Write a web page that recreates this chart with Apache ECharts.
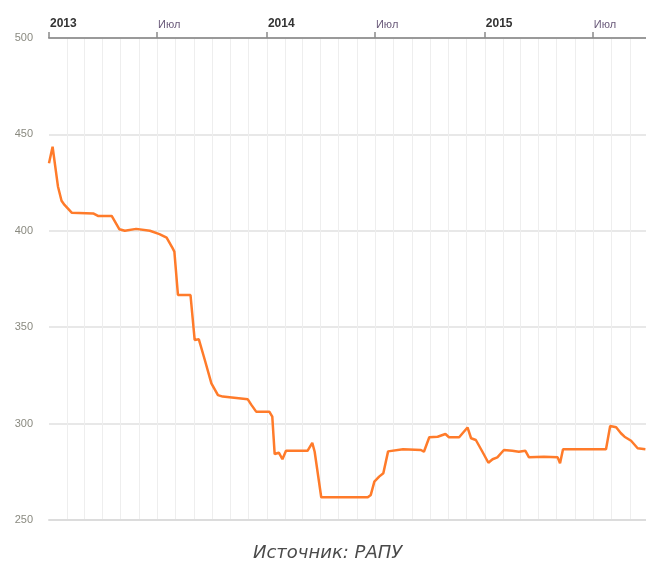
<!DOCTYPE html>
<html>
<head>
<meta charset="utf-8">
<style>
  html, body { margin: 0; padding: 0; background: #fff; }
  #chart { width: 646px; height: 568px; }
</style>
<script src="https://cdn.jsdelivr.net/npm/echarts@6/dist/echarts.min.js"></script>
</head>
<body>
<div id="chart"></div>
<script>
// Price series (dates and values)
const dates = [
  '2013-01-01','2013-01-07','2013-01-16','2013-01-22','2013-01-27','2013-02-08','2013-03-16','2013-03-24',
  '2013-04-16','2013-04-29','2013-05-08','2013-05-27','2013-06-19','2013-07-05','2013-07-17','2013-07-27',
  '2013-07-30','2013-08-05','2013-08-26','2013-09-02','2013-09-09','2013-09-19','2013-09-30','2013-10-11',
  '2013-10-19','2013-11-30','2013-12-06','2013-12-14','2014-01-05','2014-01-10','2014-01-14','2014-01-21',
  '2014-01-27','2014-02-02','2014-03-10','2014-03-18','2014-03-22','2014-04-02','2014-06-19','2014-06-24',
  '2014-06-30','2014-07-08','2014-07-15','2014-07-23','2014-08-17','2014-09-16','2014-09-21','2014-09-30',
  '2014-10-14','2014-10-27','2014-11-02','2014-11-19','2014-12-03','2014-12-09','2014-12-17','2014-12-28',
  '2015-01-07','2015-01-14','2015-01-22','2015-02-02','2015-02-16','2015-02-27','2015-03-10','2015-03-16',
  '2015-04-10','2015-05-03','2015-05-07','2015-05-12','2015-07-23','2015-07-30','2015-08-09','2015-08-17',
  '2015-08-23','2015-09-03','2015-09-14','2015-09-27'
];
const prices = [
  435, 443.6, 423, 415.6, 413.4, 409.4, 409, 407.7,
  407.7, 400.8, 400, 401, 400, 398.3, 396.5, 391,
  389.2, 366.7, 366.7, 343.4, 343.7, 333, 320.9, 314.8,
  314, 312.6, 309.7, 306.2, 306.2, 303.6, 284.2, 284.9,
  281.5, 285.9, 285.9, 290, 285.4, 261.8, 261.8, 263,
  269.9, 272.5, 274.2, 285.6, 286.7, 286.3, 285.4, 292.9,
  293.2, 294.6, 292.9, 292.9, 298, 292.4, 291.5, 285.4,
  279.7, 281.5, 282.5, 286.3, 285.9, 285.4, 285.9, 282.5,
  282.8, 282.5, 279.4, 286.7, 286.7, 298.8, 298.1, 295,
  293.2, 291.1, 287.2, 286.7
];

// Axis range and tick labels
const xMin = '2013-01-01';
const xMax = '2015-09-28';
const tickDates = ['2013-01-01', '2013-07-01', '2014-01-01', '2014-07-01', '2015-01-01', '2015-07-01'];
const tickLabels = ['2013', 'Июл', '2014', 'Июл', '2015', 'Июл'];
const yMin = 250, yMax = 500, yStep = 50;
const sourceText = 'Источник: РАПУ';

const ts = d => Date.parse(d + 'T00:00:00Z');

// Monthly vertical grid lines
const monthLines = [];
for (let y = 2013; y <= 2015; y++) {
  for (let m = 1; m <= 12; m++) {
    const d = y + '-' + String(m).padStart(2, '0') + '-01';
    if (d > xMin && d < xMax) monthLines.push({ xAxis: ts(d) });
  }
}

const tickTimes = tickDates.map(ts);
const labelFor = v => {
  const i = tickTimes.indexOf(v);
  if (i < 0) return '';
  const t = tickLabels[i];
  return /^\d+$/.test(t) ? '{y|' + t + '}' : '{m|' + t + '}';
};

const chart = echarts.init(document.getElementById('chart'), null, { renderer: 'canvas' });
chart.setOption({
  backgroundColor: '#ffffff',
  animation: false,
  grid: { left: 49, right: 0, top: 38, bottom: 48 },
  xAxis: [
    {
      type: 'value',
      position: 'top',
      min: ts(xMin),
      max: ts(xMax),
      z: 4,
      axisLine: { show: true, lineStyle: { color: '#9a9a9a', width: 2 } },
      axisTick: {
        show: true,
        customValues: tickTimes,
        length: 6,
        lineStyle: { color: '#8a8a8a', width: 1.5 }
      },
      axisLabel: {
        customValues: tickTimes,
        align: 'left',
        margin: 8,
        padding: [0, 0, 0, 1],
        formatter: labelFor,
        rich: {
          y: { fontFamily: 'Liberation Sans, Arial, sans-serif', fontSize: 12, fontWeight: 'bold', color: '#333333' },
          m: { fontFamily: 'Liberation Sans, Arial, sans-serif', fontSize: 11, color: '#6a5a7a' }
        }
      },
      splitLine: { show: false }
    },
    {
      type: 'value',
      position: 'bottom',
      min: ts(xMin),
      max: ts(xMax),
      axisLine: { show: true, lineStyle: { color: '#dcdcdc', width: 2 } },
      axisTick: { show: false },
      axisLabel: { show: false },
      splitLine: { show: false }
    }
  ],
  yAxis: {
    type: 'value',
    min: yMin,
    max: yMax,
    interval: yStep,
    axisLine: { show: false },
    axisTick: { show: false },
    axisLabel: {
      margin: 16,
      fontFamily: 'Liberation Sans, Arial, sans-serif',
      fontSize: 11,
      color: '#8a8a80'
    },
    splitLine: { show: true, lineStyle: { color: '#e0e0e0', width: 1.5 } }
  },
  graphic: [{
    type: 'text',
    left: 253,
    top: 544,
    style: {
      text: sourceText,
      fontFamily: 'DejaVu Sans, sans-serif',
      fontStyle: 'italic',
      fontSize: 18,
      fill: '#4a4a4a'
    }
  }],
  series: [
    {
      type: 'line',
      xAxisIndex: 0,
      data: [],
      silent: true,
      z: 1,
      markLine: {
        z: 0,
        silent: true,
        symbol: 'none',
        label: { show: false },
        lineStyle: { color: '#eeeeee', width: 1, type: 'solid' },
        data: monthLines
      }
    },
    {
      type: 'line',
      xAxisIndex: 0,
      z: 3,
      showSymbol: false,
      symbol: 'none',
      data: dates.map((d, i) => [ts(d), prices[i]]),
      lineStyle: { color: '#ff7b2a', width: 2.5 }
    }
  ]
});
</script>
</body>
</html>
